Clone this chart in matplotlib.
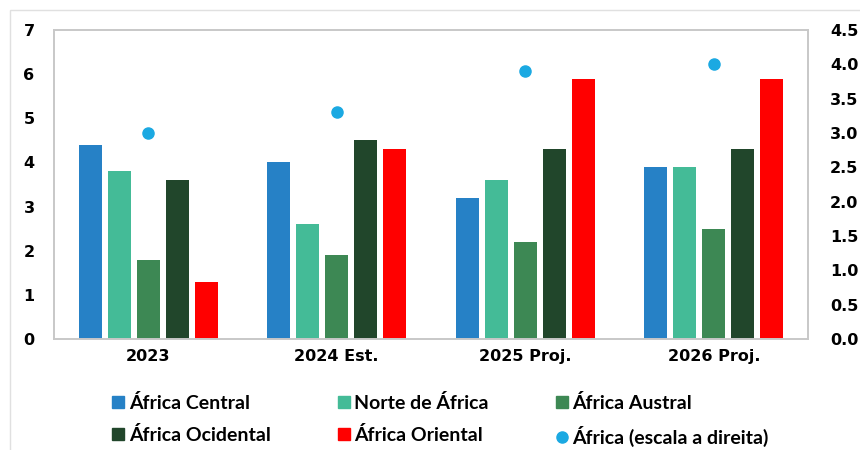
import matplotlib.pyplot as plt
import numpy as np
from matplotlib.patches import Rectangle
from matplotlib.lines import Line2D

# --- data ---
categories = ["2023", "2024 Est.", "2025 Proj.", "2026 Proj."]
series_names = ["África Central", "Norte de África", "África Austral",
                "África Ocidental", "África Oriental"]
central = [4.4, 4.0, 3.2, 3.9]
norte = [3.8, 2.6, 3.6, 3.9]
austral = [1.8, 1.9, 2.2, 2.5]
ocidental = [3.6, 4.5, 4.3, 4.3]
oriental = [1.3, 4.3, 5.9, 5.9]
africa = [3.0, 3.3, 3.9, 4.0]
dot_label = "África (escala a direita)"

colors = ["#2681C6", "#44BB97", "#3D8854", "#21462B", "#FF0000"]
dot_color = "#1BA9E2"
grey = "#C8C8C8"

fig = plt.figure(figsize=(8.6, 4.5), dpi=100)
fig.patches.append(Rectangle((10 / 860, -0.05), 1.0, 1 - 10 / 450 + 0.05,
                             transform=fig.transFigure, fill=False,
                             edgecolor="#E0E0E0", lw=1))
ax = fig.add_axes([54 / 860, 1 - 339 / 450, 754 / 860, 309 / 450])
ax2 = ax.twinx()

x = np.arange(len(categories))
width = 0.122
step = 0.154
all_series = [central, norte, austral, ocidental, oriental]
for i, vals in enumerate(all_series):
    ax.bar(x + (i - 2) * step, vals, width, color=colors[i], label=series_names[i])

# dot sits over the middle (Austral) bar
ax2.plot(x, africa, "o", color=dot_color, markersize=8, label=dot_label)

ax.set_xlim(-0.5, 3.5)
ax.set_ylim(0, 7)
ax2.set_ylim(0, 4.5)
ax.set_yticks(range(0, 8))
ax2.set_yticks(np.arange(0, 4.51, 0.5))
ax2.set_yticklabels([f"{v:.1f}" for v in np.arange(0, 4.51, 0.5)])
ax.set_xticks(x)
ax.set_xticklabels(categories)

for lab in ax.get_xticklabels() + ax.get_yticklabels() + ax2.get_yticklabels():
    lab.set_fontsize(11.5)
    lab.set_fontweight("bold")
ax.tick_params(length=0)
ax.tick_params(axis="y", pad=14)
ax.tick_params(axis="x", pad=7)
ax2.tick_params(length=0, pad=16)

for a in (ax, ax2):
    for s in a.spines.values():
        s.set_color(grey)
        s.set_linewidth(1.2)

# legend: row 1 Central/Norte/Austral, row 2 Ocidental/Oriental/Africa
sq = lambda c: Line2D([], [], marker="s", color=c, linestyle="", markersize=9)
handles = [sq(colors[0]), sq(colors[3]), sq(colors[1]), sq(colors[4]), sq(colors[2]),
           Line2D([], [], marker="o", color=dot_color, linestyle="", markersize=8)]
labels = [series_names[0], series_names[3], series_names[1], series_names[4],
          series_names[2], dot_label]
fig.legend(handles, labels, ncol=3, loc="upper left", bbox_to_anchor=(94 / 860, 1 - 376 / 450),
           frameon=False, prop={"family": "Lato", "weight": "bold", "size": 14},
           handletextpad=0.2, handlelength=0.7, columnspacing=3.4, labelspacing=0.72)

fig.savefig("out.png", dpi=100)
